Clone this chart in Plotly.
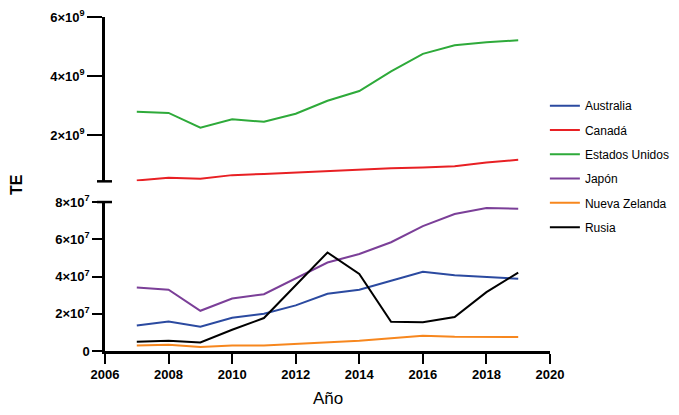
import plotly.graph_objects as go

years = list(range(2007, 2020))

australia = [1.375e7, 1.59e7, 1.30e7, 1.79e7, 2.00e7, 2.45e7, 3.07e7, 3.29e7, 3.77e7, 4.25e7, 4.07e7, 3.98e7, 3.88e7]
canada = [0.46e9, 0.55e9, 0.52e9, 0.64e9, 0.68e9, 0.73e9, 0.79e9, 0.82e9, 0.87e9, 0.90e9, 0.94e9, 1.07e9, 1.16e9]
usa = [2.79e9, 2.75e9, 2.25e9, 2.53e9, 2.45e9, 2.72e9, 3.16e9, 3.49e9, 4.16e9, 4.75e9, 5.04e9, 5.14e9, 5.21e9]
japan = [3.41e7, 3.29e7, 2.16e7, 2.82e7, 3.05e7, 3.91e7, 4.75e7, 5.21e7, 5.84e7, 6.71e7, 7.36e7, 7.68e7, 7.64e7]
nz = [0.29e7, 0.34e7, 0.21e7, 0.29e7, 0.29e7, 0.375e7, 0.48e7, 0.55e7, 0.68e7, 0.82e7, 0.77e7, 0.75e7, 0.75e7]
russia = [0.50e7, 0.55e7, 0.46e7, 1.14e7, 1.77e7, 3.55e7, 5.29e7, 4.14e7, 1.57e7, 1.54e7, 1.82e7, 3.16e7, 4.21e7]

series = [
    ("Australia", australia, "#2B4AA0", "y"),
    ("Canadá", canada, "#E82024", "y2"),
    ("Estados Unidos", usa, "#2EAA3A", "y2"),
    ("Japón", japan, "#7B3F98", "y"),
    ("Nueva Zelanda", nz, "#F7871E", "y"),
    ("Rusia", russia, "#000000", "y"),
]

x_ticks = list(range(2006, 2021, 2))
low_ticks = [0, 2e7, 4e7, 6e7, 8e7]
low_text = ["0", "2×10<sup>7</sup>", "4×10<sup>7</sup>", "6×10<sup>7</sup>", "8×10<sup>7</sup>"]
high_ticks = [2e9, 4e9, 6e9]
high_text = ["2×10<sup>9</sup>", "4×10<sup>9</sup>", "6×10<sup>9</sup>"]

FONT = "Liberation Sans, Arial, Helvetica, sans-serif"

fig = go.Figure()
for i, (name, vals, color, yax) in enumerate(series):
    fig.add_trace(go.Scatter(
        x=years, y=vals, name=name, mode="lines", yaxis=yax, xaxis="x",
        line=dict(color=color, width=2), legendgroup=f"g{i}",
    ))

tickfont = dict(family=FONT, size=13, color="black", weight="bold")

fig.update_layout(
    width=663, height=407,
    margin=dict(l=97, r=121, t=9, b=64, autoexpand=False),
    plot_bgcolor="white", paper_bgcolor="white",
    showlegend=True,
    legend=dict(x=0.9885, xanchor="left", y=0.778, yanchor="top",
                font=dict(family=FONT, size=12, color="black"),
                tracegroupgap=5.3, bgcolor="rgba(0,0,0,0)"),
    xaxis=dict(range=[2006, 2020], tickvals=x_ticks, ticktext=[str(v) for v in x_ticks],
               showline=True, linecolor="black", linewidth=2.5, ticks="outside",
               ticklen=10, tickwidth=2, tickcolor="black", showgrid=False, zeroline=False,
               tickfont=tickfont, anchor="y", automargin=False),
    yaxis=dict(domain=[0, 0.446], range=[0, 8e7], tickvals=low_ticks, ticktext=low_text,
               showline=True, linecolor="black", linewidth=2.5, ticks="outside",
               ticklen=10, tickwidth=2, tickcolor="black", showgrid=False, zeroline=False,
               tickfont=tickfont, anchor="x", automargin=False),
    yaxis2=dict(domain=[0.508, 1], range=[0.43e9, 6e9], tickvals=high_ticks, ticktext=high_text,
                showline=True, linecolor="black", linewidth=2.5, ticks="outside",
                ticklen=15, tickwidth=2, tickcolor="black", showgrid=False, zeroline=False,
                tickfont=tickfont, anchor="x", automargin=False),
    shapes=[
        dict(type="line", xref="paper", yref="y2 domain", x0=-0.018, x1=0.0157, y0=0, y1=0,
             line=dict(color="black", width=2.5)),
        dict(type="line", xref="paper", yref="y domain", x0=-0.018, x1=0.0157, y0=1, y1=1,
             line=dict(color="black", width=2.5)),
    ],
    annotations=[
        dict(text="Año", xref="paper", yref="paper", x=0.5, y=-0.141, showarrow=False,
             xanchor="center", yanchor="middle", font=dict(family=FONT, size=17, color="black")),
        dict(text="<b>TE</b>", xref="paper", yref="paper", x=-0.2, y=0.497, showarrow=False,
             textangle=-90, xanchor="center", yanchor="middle",
             font=dict(family=FONT, size=16, color="black")),
    ],
)

fig.write_html("out.html")
